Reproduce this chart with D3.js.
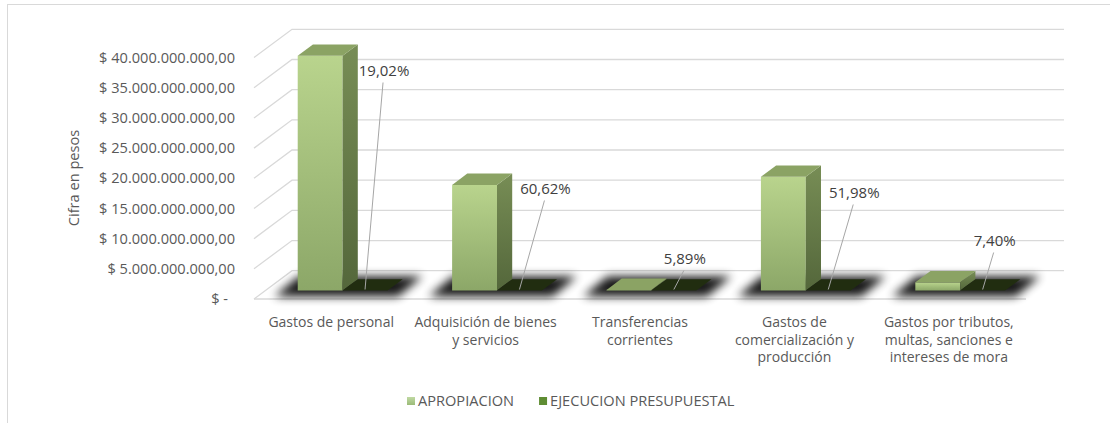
<!DOCTYPE html>
<html lang="es">
<head>
<meta charset="utf-8">
<title>Apropiación vs ejecución presupuestal</title>
<script src="https://cdn.jsdelivr.net/npm/d3@7"></script>
<style>
  body { margin: 0; background: #fff; }
  text { font-family: "Open Sans", sans-serif; fill: #595959; }
</style>
</head>
<body>
<script>

// Datos
var categorias = [
  ["Gastos de personal"],
  ["Adquisición de bienes", "y servicios"],
  ["Transferencias", "corrientes"],
  ["Gastos de", "comercialización y", "producción"],
  ["Gastos por tributos,", "multas, sanciones e", "intereses de mora"]
];
var series = ["APROPIACION", "EJECUCION PRESUPUESTAL"];
var apropiacion = [38.9e9, 17.5e9, 0.1e9, 18.85e9, 1.35e9];
var ejecucion = [0.1902, 0.6062, 0.0589, 0.5198, 0.0740];   // porcentaje, casi cero en el eje
var yTicks = [0, 5e9, 10e9, 15e9, 20e9, 25e9, 30e9, 35e9, 40e9];

// Tamaño
var w = 1110, h = 423;

// proyeccion oblicua (profundidad del piso)
var depth = [38, -28.3];
var z0 = 0.3, z1 = 0.7;
function proj(x, y, z) { return [x + z * depth[0], y + z * depth[1]]; }

// Etiquetas movidas a mano en el original (dx, dy desde la barra)
var labelOffset = [[19, -220], [26, -102], [11, -32], [26, -98], [12, -50]];

var es = d3.formatLocale({ decimal: ",", thousands: ".", grouping: [3], currency: ["$ ", ""] });
var fmtPesos = es.format("$,.2f");
var fmtPct = es.format(".2%");

var x0 = d3.scaleBand().domain(d3.range(categorias.length)).range([254, 1026]);
var x1 = d3.scaleBand().domain(series).range([0, x0.bandwidth()]).paddingOuter(0.72);
var y = d3.scaleLinear().domain([0, 40e9]).range([299, 57.6]);

var svg = d3.select("body").append("svg")
  .attr("width", w)
  .attr("height", h);

// gradientes
var defs = svg.append("defs");
function grad(id, c1, c2) {
  var g = defs.append("linearGradient").attr("id", id)
    .attr("x1", 0).attr("y1", 0).attr("x2", 0).attr("y2", 1);
  g.append("stop").attr("offset", "0%").attr("stop-color", c1);
  g.append("stop").attr("offset", "100%").attr("stop-color", c2);
}
grad("frente", "#b9d48d", "#8ca768");
grad("lado", "#778d55", "#54673b");
grad("leyenda", "#c0d9a3", "#9bbb78");
defs.append("filter").attr("id", "sombra")
  .attr("x", "-50%").attr("y", "-100%").attr("width", "200%").attr("height", "300%")
  .append("feGaussianBlur").attr("stdDeviation", 5);

// marco
svg.append("rect")
  .attr("x", 7.5).attr("y", 4.5)
  .attr("width", w).attr("height", h)
  .attr("fill", "none").attr("stroke", "#d9d9d9");

var x0Left = x0.range()[0], x0Right = x0.range()[1];

// lineas de cuadricula: pared lateral + pared de fondo
var grid = svg.append("g").attr("stroke", "#d9d9d9").attr("stroke-width", 1.3).attr("fill", "none");
yTicks.forEach(function(t) {
  var a = [x0Left, y(t)], b = proj(x0Left, y(t), 1), c = proj(x0Right, y(t), 1);
  grid.append("path").attr("d", d3.line()([a, b, c]));
});
// borde frontal del piso
grid.append("line")
  .attr("x1", x0Left).attr("y1", y(0))
  .attr("x2", x0Right).attr("y2", y(0));

// eje y
var yAxis = svg.append("g")
  .attr("transform", "translate(" + x0Left + ",0)")
  .call(d3.axisLeft(y).tickValues(yTicks).tickSize(0).tickPadding(19)
    .tickFormat(function(d) { return d === 0 ? "$ -" : fmtPesos(d); }));
yAxis.select(".domain").remove();
yAxis.selectAll("text")
  .attr("fill", "#595959")
  .style("font-size", "14.6px")
  .attr("dx", function(d) { return d === 0 ? -7 : 0; });

svg.append("text")
  .attr("transform", "translate(79,178) rotate(-90)")
  .attr("text-anchor", "middle")
  .style("font-size", "14.6px")
  .text("Cifra en pesos");

// sombras del piso
var bw = x1.bandwidth();
categorias.forEach(function(c, i) {
  var xa = x0(i) + x1(series[0]) - 18, xb = x0(i) + x1(series[1]) + bw + 16;
  var pts = [proj(xa, y(0) + 2, 0.16), proj(xb, y(0) + 2, 0.16), proj(xb, y(0), 0.8), proj(xa, y(0), 0.8)];
  svg.append("path")
    .attr("d", d3.line()(pts) + "Z")
    .attr("fill", "#000")
    .attr("opacity", 0.9)
    .attr("filter", "url(#sombra)");
});

// barras 3D
var datos = [apropiacion, ejecucion];
var estilos = [
  { frente: "url(#frente)", lado: "url(#lado)", arriba: "#8ba364" },
  { frente: "#1a240c", lado: "#141c09", arriba: "#212d10" }
];
categorias.forEach(function(c, i) {
  series.forEach(function(s, k) {
    var v = datos[k][i];
    var xl = x0(i) + x1(s), xr = xl + bw;
    var yt = y(v), yb = y(0);
    var g = svg.append("g");
    var f = proj(xl, yt, z0);
    g.append("rect")
      .attr("x", f[0]).attr("y", f[1])
      .attr("width", bw).attr("height", Math.max(0, yb - yt))
      .attr("fill", estilos[k].frente);
    g.append("path")
      .attr("d", d3.line()([proj(xr, yb, z0), proj(xr, yt, z0), proj(xr, yt, z1), proj(xr, yb, z1)]) + "Z")
      .attr("fill", estilos[k].lado);
    g.append("path")
      .attr("d", d3.line()([proj(xl, yt, z0), proj(xr, yt, z0), proj(xr, yt, z1), proj(xl, yt, z1)]) + "Z")
      .attr("fill", estilos[k].arriba);
  });
});

// etiquetas de datos (ejecucion en %)
categorias.forEach(function(c, i) {
  var xm = x0(i) + x1(series[1]) + bw / 2;
  var a = proj(xm, y(ejecucion[i]), z0);
  var lx = a[0] + labelOffset[i][0], ly = a[1] + labelOffset[i][1];
  svg.append("line")
    .attr("x1", a[0]).attr("y1", a[1] - 1)
    .attr("x2", lx - 1).attr("y2", ly + 12)
    .attr("stroke", "#a6a6a6").attr("stroke-width", 1);
  svg.append("text")
    .attr("x", lx).attr("y", ly)
    .attr("dy", "0.35em")
    .attr("text-anchor", "middle")
    .style("font-size", "15px")
    .style("fill", "#404040")
    .text(fmtPct(ejecucion[i]));
});

// etiquetas de categoria
categorias.forEach(function(lines, i) {
  var t = svg.append("text")
    .attr("text-anchor", "middle")
    .style("font-size", "14px");
  lines.forEach(function(l, j) {
    t.append("tspan")
      .attr("x", x0(i) + x0.bandwidth() / 2)
      .attr("y", 327 + j * 17.5)
      .text(l);
  });
});

// leyenda
var leyColores = ["url(#leyenda)", "#5f8d33"];
var ley = svg.append("g").attr("transform", "translate(407,401)");
var lxPos = 0;
series.forEach(function(s, k) {
  ley.append("rect")
    .attr("x", lxPos).attr("y", -4)
    .attr("width", 8).attr("height", 8)
    .attr("fill", leyColores[k]);
  var t = ley.append("text")
    .attr("x", lxPos + 11).attr("dy", "0.35em")
    .style("font-size", "14.6px")
    .text(s);
  lxPos += 11 + t.node().getComputedTextLength() + 25;
});

</script>
</body>
</html>
